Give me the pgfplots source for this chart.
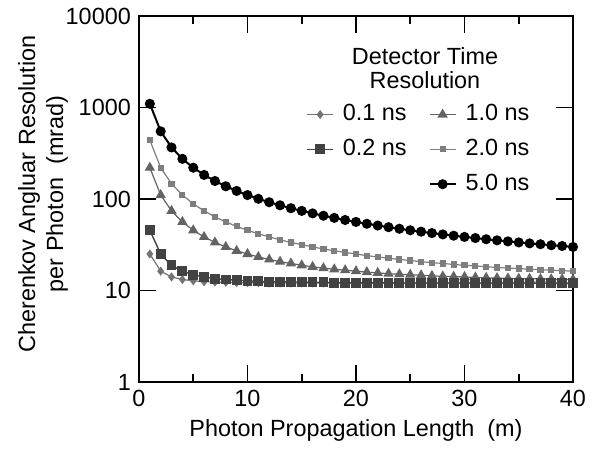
\documentclass[border=0pt]{standalone}
\usepackage{pgfplots}
\pgfplotsset{compat=1.18}
\usepackage{pgfplotstable}
\usepackage{fontspec}
\setmainfont{Liberation Sans}

\definecolor{cA}{HTML}{737373}
\definecolor{cB}{HTML}{424242}
\definecolor{cC}{HTML}{636363}
\definecolor{cD}{HTML}{7E7E7E}

% photon propagation length (m) vs angular resolution (mrad)
\pgfplotstableread{
L t01 t02 t10 t20 t50
1 25.1 45.6 220.3 440.2 1100
2 16.3 25.1 110.7 220.3 550.1
3 14.1 18.9 74.3 147.2 366.9
4 13.2 16.3 56.3 110.7 275.3
5 12.8 14.9 45.6 88.8 220.3
6 12.5 14.1 38.6 74.3 183.7
7 12.4 13.5 33.6 64.0 157.6
8 12.3 13.2 30.0 56.3 138.0
9 12.2 13.0 27.2 50.3 122.8
10 12.2 12.8 25.1 45.6 110.7
11 12.2 12.6 23.3 41.8 100.7
12 12.1 12.5 21.9 38.6 92.4
13 12.1 12.5 20.7 35.9 85.5
14 12.1 12.4 19.8 33.6 79.5
15 12.1 12.4 18.9 31.7 74.3
16 12.1 12.3 18.2 30.0 69.8
17 12.1 12.3 17.6 28.5 65.8
18 12.1 12.2 17.1 27.2 62.3
19 12.1 12.2 16.7 26.1 59.1
20 12.1 12.2 16.3 25.1 56.3
21 12.0 12.2 15.9 24.1 53.7
22 12.0 12.2 15.6 23.3 51.4
23 12.0 12.2 15.3 22.6 49.3
24 12.0 12.1 15.1 21.9 47.4
25 12.0 12.1 14.9 21.3 45.6
26 12.0 12.1 14.7 20.7 44.0
27 12.0 12.1 14.5 20.2 42.5
28 12.0 12.1 14.3 19.8 41.1
29 12.0 12.1 14.2 19.3 39.8
30 12.0 12.1 14.1 18.9 38.6
31 12.0 12.1 13.9 18.6 37.5
32 12.0 12.1 13.8 18.2 36.4
33 12.0 12.1 13.7 17.9 35.4
34 12.0 12.1 13.6 17.6 34.5
35 12.0 12.1 13.5 17.4 33.6
36 12.0 12.1 13.5 17.1 32.8
37 12.0 12.0 13.4 16.9 32.1
38 12.0 12.0 13.3 16.7 31.3
39 12.0 12.0 13.3 16.5 30.7
40 12.0 12.0 13.2 16.3 30.0
}\datatable

\begin{document}
\fontsize{11.7bp}{14bp}\selectfont
\begin{tikzpicture}
\begin{axis}[
    scale only axis,
    width=217bp, height=183bp,
    xmin=0, xmax=40,
    ymode=log, ymin=1, ymax=10000,
    xtick={0,10,20,30,40},
    minor x tick num=1,
    ytick={1,10,100,1000,10000},
    yticklabels={1,10,100,1000,10000},
    yminorticks=false,
    tick align=inside,
    major tick length=8.5bp,
    minor tick length=4bp,
    axis line style={line width=0.8bp},
    every tick/.style={black, line width=0.8bp},
    /pgf/number format/assume math mode=true,
    clip=false,
    xlabel={Photon Propagation Length\ \ (m)},
    ylabel={Cherenkov Angluar Resolution\\per Photon\ \ (mrad)},
    xlabel style={at={(axis description cs:0.5,0)}, anchor=center, yshift=-24bp},
    ylabel style={at={(axis description cs:0,0.514)}, anchor=center, yshift=48bp, align=center},
    legend columns=2,
    legend cell align=left,
    legend style={draw=none, fill=none, inner sep=0pt,
                  at={(axis description cs:0.385,0.77)}, anchor=north west,
                  nodes={inner xsep=4.5bp},
                  /tikz/every even column/.append style={column sep=6.5bp},
                  row sep=3.5bp},
    legend image code/.code={\draw[mark repeat=2,mark phase=2] plot coordinates {(0bp,0bp)(6.5bp,0bp)(13bp,0bp)};},
]
\addplot[color=cA, line width=0.6bp, mark=diamond*, mark size=1.8bp] table[x=L,y=t01] {\datatable};
\addlegendentry{0.1 ns}
\addplot[color=cC, line width=0.6bp, mark=triangle*, mark size=2.4bp] table[x=L,y=t10] {\datatable};
\addlegendentry{1.0 ns}
\addplot[color=cB, line width=0.7bp, mark=square*, mark size=2.1bp] table[x=L,y=t02] {\datatable};
\addlegendentry{0.2 ns}
\addplot[color=cD, line width=0.6bp, mark=square*, mark size=1.25bp] table[x=L,y=t20] {\datatable};
\addlegendentry{2.0 ns}
\addlegendimage{empty legend}
\addlegendentry{}
\addplot[color=black, line width=1bp, mark=*, mark size=2bp] table[x=L,y=t50] {\datatable};
\addlegendentry{5.0 ns}

\node[align=center, inner sep=0pt, font=\fontsize{11.7bp}{12bp}\selectfont]
    at (axis description cs:0.659,0.857) {Detector Time\\Resolution};
\path ([xshift=-69.5bp,yshift=-37.5bp]rel axis cs:0,0) rectangle ([xshift=13.5bp,yshift=5bp]rel axis cs:1,1);
\end{axis}
\end{tikzpicture}
\end{document}
